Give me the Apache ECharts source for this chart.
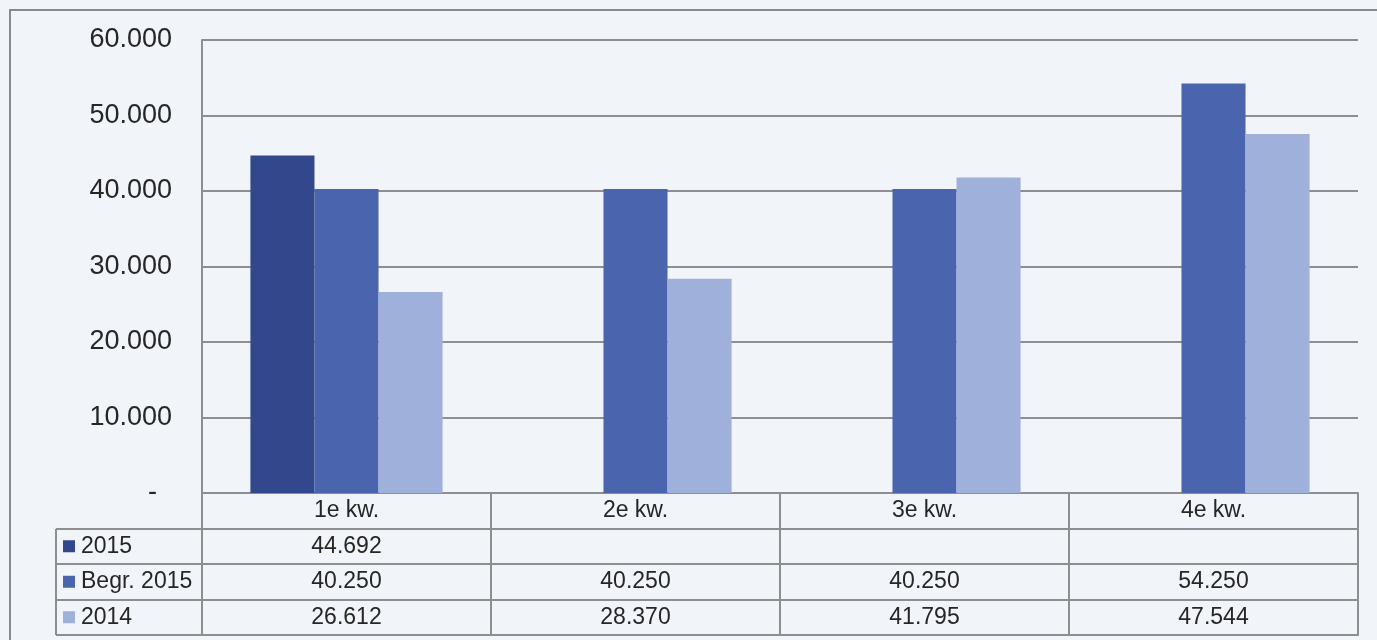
<!DOCTYPE html>
<html>
<head>
<meta charset="utf-8">
<script src="https://cdn.jsdelivr.net/npm/echarts@6/dist/echarts.min.js"></script>
<style>
  html, body { margin: 0; padding: 0; background: #f1f4f9; }
  #main { width: 1377px; height: 640px; }
</style>
</head>
<body>
<div id="main"></div>
<script>
  // data
  var categories = ['1e kw.', '2e kw.', '3e kw.', '4e kw.'];
  var seriesNames = ['2015', 'Begr. 2015', '2014'];
  var values2015 = [44692, null, null, null];
  var valuesBegr2015 = [40250, 40250, 40250, 54250];
  var values2014 = [26612, 28370, 41795, 47544];
  var yTicks = [0, 10000, 20000, 30000, 40000, 50000, 60000];

  var colors = ['#33488c', '#4a64ae', '#9fb1db'];
  var lineColor = '#8e8e8e';
  var textColor = '#262626';
  var font = 'Liberation Sans, Arial, sans-serif';

  // layout
  var gridLeft = 202, gridTop = 40, gridRight = 19, plotBottom = 493;
  var rowH = 35.5;
  var legendLeft = 56;

  function fmt(v) {
    if (v === null || v === undefined) return '';
    return String(v).replace(/\B(?=(\d{3})+(?!\d))/g, '.');
  }

  var rows = [values2015, valuesBegr2015, values2014];

  var xAxes = [{
    type: 'category',
    position: 'bottom',
    data: categories,
    axisLine: { onZero: false, lineStyle: { color: lineColor, width: 2 } },
    axisTick: { show: true, interval: 0, length: rowH, lineStyle: { color: lineColor, width: 2 } },
    axisLabel: { interval: 0, margin: 0, lineHeight: rowH, fontSize: 23, fontFamily: font, color: textColor }
  }];
  rows.forEach(function (arr, k) {
    xAxes.push({
      type: 'category',
      position: 'bottom',
      offset: Math.round((k + 1) * rowH),
      data: categories,
      axisLine: { onZero: false, lineStyle: { color: lineColor, width: 2 } },
      axisTick: { show: true, interval: 0, length: rowH, lineStyle: { color: lineColor, width: 2 } },
      axisLabel: {
        interval: 0, margin: 0, lineHeight: rowH, fontSize: 23, fontFamily: font, color: textColor,
        formatter: function (v, i) { return fmt(arr[i]); }
      }
    });
  });
  // bottom line of the table
  xAxes.push({
    type: 'category',
    position: 'bottom',
    offset: Math.round(4 * rowH),
    data: categories,
    axisLine: { onZero: false, lineStyle: { color: lineColor, width: 2 } },
    axisTick: { show: false },
    axisLabel: { show: false }
  });

  // borders of the legend column of the table
  var graphics = [{
    type: 'rect',
    shape: { x: 10, y: 10, width: 1420, height: 700 },
    style: { fill: 'none', stroke: '#8a8a8a', lineWidth: 2 },
    silent: true
  }];
  for (var r = 1; r <= 4; r++) {
    var yy = plotBottom + Math.round(r * rowH);
    graphics.push({
      type: 'line',
      shape: { x1: legendLeft, y1: yy, x2: gridLeft, y2: yy },
      style: { stroke: lineColor, lineWidth: 2 },
      silent: true
    });
  }
  graphics.push({
    type: 'line',
    shape: { x1: legendLeft, y1: plotBottom + Math.round(rowH), x2: legendLeft, y2: plotBottom + Math.round(4 * rowH) },
    style: { stroke: lineColor, lineWidth: 2 },
    silent: true
  });

  var myChart = echarts.init(document.getElementById('main'));
  var option = {
    backgroundColor: '#f1f4f9',
    animation: false,
    color: colors,
    grid: {
      left: gridLeft,
      top: gridTop,
      right: gridRight,
      bottom: 640 - plotBottom
    },
    legend: {
      data: seriesNames,
      orient: 'vertical',
      left: legendLeft + 7,
      top: plotBottom + rowH + rowH / 2 - 12,
      padding: 0,
      itemGap: rowH - 24,
      itemWidth: 12,
      itemHeight: 12,
      icon: 'rect',
      selectedMode: false,
      textStyle: { fontSize: 23, lineHeight: 24, fontFamily: font, color: textColor, padding: [0, 0, 0, 1] }
    },
    xAxis: xAxes,
    yAxis: {
      type: 'value',
      min: yTicks[0],
      max: yTicks[yTicks.length - 1],
      interval: yTicks[1] - yTicks[0],
      axisLine: { show: true, lineStyle: { color: lineColor, width: 2 } },
      axisTick: { show: false },
      splitLine: { lineStyle: { color: lineColor, width: 2 } },
      axisLabel: {
        margin: 30,
        fontSize: 27,
        fontFamily: font,
        color: textColor,
        formatter: function (v) { return v === 0 ? '-  ' : fmt(v); }
      }
    },
    graphic: graphics,
    series: [
      { name: seriesNames[0], type: 'bar', data: values2015, barGap: '0%', barCategoryGap: '33.5%' },
      { name: seriesNames[1], type: 'bar', data: valuesBegr2015, barGap: '0%', barCategoryGap: '33.5%' },
      { name: seriesNames[2], type: 'bar', data: values2014, barGap: '0%', barCategoryGap: '33.5%' }
    ]
  };
  myChart.setOption(option);
  window.addEventListener('resize', function () {
    myChart.resize();
  });
</script>
</body>
</html>
